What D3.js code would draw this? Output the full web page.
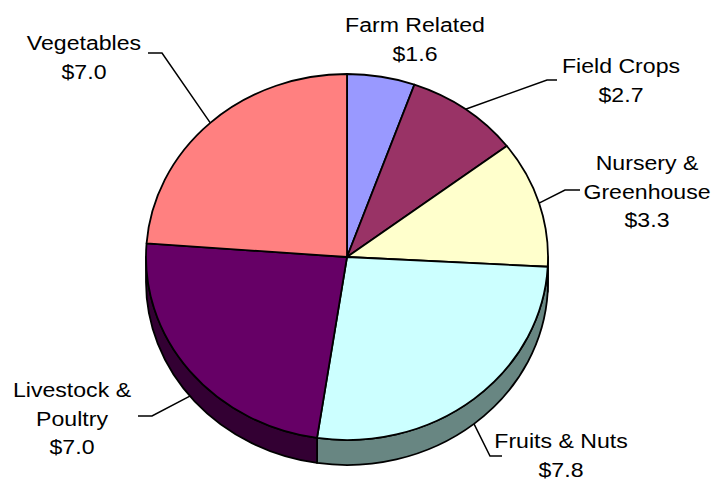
<!DOCTYPE html>
<html>
<head>
<meta charset="utf-8">
<script src="https://cdn.jsdelivr.net/npm/d3@7"></script>
<style>
  html, body { margin: 0; padding: 0; background: #ffffff; }
  svg { display: block; }
  text { font-family: "Liberation Sans", Arial, sans-serif; font-size: 21px; fill: #000; }
</style>
</head>
<body>
<svg id="chart" width="716" height="481"></svg>
<script>
// ---- data ----
const categories = ["Farm Related", "Field Crops", "Nursery & Greenhouse", "Fruits & Nuts", "Livestock & Poultry", "Vegetables"];
const values = [1.6, 2.7, 3.3, 7.8, 7.0, 7.0];
const labelLines = [
  ["Farm Related", "$1.6"],
  ["Field Crops", "$2.7"],
  ["Nursery &", "Greenhouse", "$3.3"],
  ["Fruits & Nuts", "$7.8"],
  ["Livestock &", "Poultry", "$7.0"],
  ["Vegetables", "$7.0"]
];
const topColors = ["#9999ff", "#993366", "#ffffcc", "#ccffff", "#660066", "#ff8080"];
const sideColors = ["#4d4d80", "#4d1a33", "#808066", "#688682", "#330033", "#804040"];

// ---- layout ----
const cx = 347, cy = 257, R = 183, sx = 201 / 183, depth = 25;
const labelLayout = [
  { x: 415, y: 32, leader: null },
  { x: 621, y: 73, leader: [[547, 80], [557, 80]] },
  { x: 647, y: 170, leader: [[565, 190], [580, 190]] },
  { x: 561, y: 448, leader: [[490, 456], [502, 456]] },
  { x: 72, y: 397, leader: [[152, 416], [138, 416]] },
  { x: 84, y: 50, leader: [[162, 53], [148, 53]] }
];
const lineGap = 28.5;

const svg = d3.select("#chart");
const pie = d3.pie().sort(null).value(d => d)(values);
const arc = d3.arc().innerRadius(0).outerRadius(R);

const g = svg.append("g").attr("transform", `translate(${cx},${cy}) scale(${sx},1)`);

// side walls (visible for angles between PI/2 and 3PI/2)
function sidePath(a0, a1) {
  const p = d3.path();
  const t0 = a0 - Math.PI / 2, t1 = a1 - Math.PI / 2;
  p.moveTo(R * Math.cos(t0), R * Math.sin(t0));
  p.arc(0, 0, R, t0, t1, false);
  p.lineTo(R * Math.cos(t1), R * Math.sin(t1) + depth);
  p.arc(0, depth, R, t1, t0, true);
  p.closePath();
  return p.toString();
}
pie.forEach((d, i) => {
  const a0 = Math.max(d.startAngle, Math.PI / 2);
  const a1 = Math.min(d.endAngle, 3 * Math.PI / 2);
  if (a1 > a0) {
    g.append("path")
      .attr("d", sidePath(a0, a1))
      .attr("fill", sideColors[i])
      .attr("stroke", "#000")
      .attr("stroke-width", 1.8)
      .attr("stroke-linejoin", "round")
      .attr("vector-effect", "non-scaling-stroke");
  }
});

// top faces
g.selectAll("path.top")
  .data(pie)
  .enter().append("path")
  .attr("class", "top")
  .attr("d", arc)
  .attr("fill", (d, i) => topColors[i])
  .attr("stroke", "#000")
  .attr("stroke-width", 1.8)
  .attr("stroke-linejoin", "round")
  .attr("vector-effect", "non-scaling-stroke");

// leader lines
pie.forEach((d, i) => {
  const L = labelLayout[i];
  if (!L.leader) return;
  const mid = (d.startAngle + d.endAngle) / 2;
  let ax = cx + sx * R * Math.sin(mid);
  let ay = cy - R * Math.cos(mid);
  if (Math.cos(mid) < 0) ay += depth;
  const pts = [[ax, ay]].concat(L.leader);
  svg.append("path")
    .attr("d", d3.line()(pts))
    .attr("fill", "none")
    .attr("stroke", "#000")
    .attr("stroke-width", 1.5);
});

// labels
labelLines.forEach((lines, i) => {
  const L = labelLayout[i];
  lines.forEach((t, j) => {
    svg.append("g")
      .attr("transform", `translate(${L.x},${L.y + j * lineGap}) scale(1.1,1)`)
      .append("text")
      .attr("text-anchor", "middle")
      .text(t);
  });
});
</script>
</body>
</html>
